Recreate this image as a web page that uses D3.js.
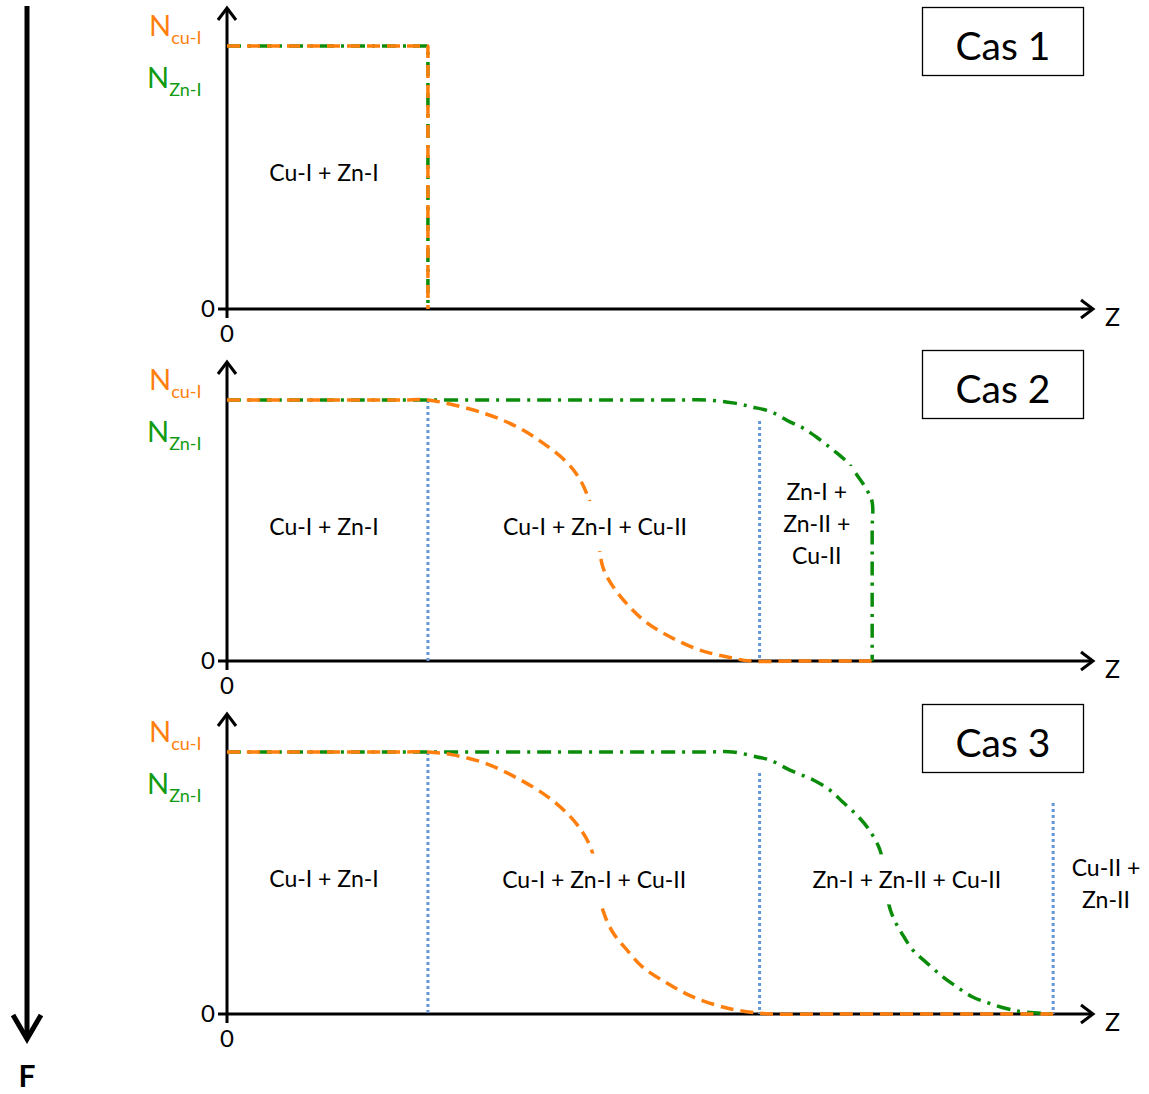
<!DOCTYPE html>
<html>
<head>
<meta charset="utf-8">
<script src="https://cdn.jsdelivr.net/npm/d3@7"></script>
<style>
  body { margin: 0; background: #fff; }
  text { font-family: Lato, "Open Sans", sans-serif; }
</style>
</head>
<body>
<div id="wrapper"></div>
<script>
/*global d3*/

// z runs 0..10 along the axis, N runs 0..1 (plateau = N initial)
const panelNames = ["Cas 1", "Cas 2", "Cas 3"]

// orange : N cu-I
const cuCas1 = [[0, 1], [2.32, 1], [2.32, 0]]
const cuCas2 = [[0, 1], [2.0, 1], [2.32, 1], [2.96, 0.95], [3.35, 0.897], [3.65, 0.835], [3.93, 0.759],
  [4.08, 0.693], [4.19, 0.609], [4.27, 0.513], [4.34, 0.36], [4.46, 0.284], [4.65, 0.207],
  [4.85, 0.146], [5.12, 0.092], [5.46, 0.042], [5.84, 0.011], [6.04, 0], [6.6, 0], [7.45, 0]]
const cuCas3 = [[0, 1], [2.0, 1], [2.32, 1], [2.61, 0.989], [3.0, 0.955], [3.38, 0.895], [3.7, 0.83],
  [3.93, 0.765], [4.1, 0.697], [4.21, 0.626], [4.28, 0.51], [4.34, 0.397], [4.46, 0.309],
  [4.62, 0.244], [4.8, 0.179], [5.08, 0.118], [5.38, 0.065], [5.77, 0.023], [6.12, 0.004],
  [6.3, 0], [7.0, 0], [9.54, 0]]

// green : N Zn-I
const znCas1 = [[0, 1], [2.32, 1], [2.32, 0]]
const znCas2 = [[0, 1], [5.2, 1], [5.54, 1], [5.84, 0.989], [6.07, 0.973], [6.29, 0.954], [6.5, 0.916],
  [6.65, 0.893], [6.85, 0.847], [7.0, 0.808], [7.16, 0.762], [7.29, 0.705], [7.39, 0.655],
  [7.45, 0.609], [7.45, 0.5], [7.45, 0]]
const znCas3 = [[0, 1], [5.2, 1], [5.54, 1], [5.84, 1], [6.12, 0.981], [6.27, 0.969], [6.5, 0.931],
  [6.77, 0.893], [6.96, 0.855], [7.11, 0.809], [7.27, 0.76], [7.4, 0.71], [7.54, 0.626],
  [7.59, 0.53], [7.63, 0.435], [7.69, 0.37], [7.79, 0.309], [7.92, 0.244], [8.08, 0.195],
  [8.27, 0.141], [8.43, 0.103], [8.61, 0.065], [8.81, 0.04], [9.01, 0.02], [9.19, 0.008],
  [9.54, 0]]

// dotted blue limits : [z, top N]
const limitsCas1 = []
const limitsCas2 = [[2.32, 1], [6.15, 0.92]]
const limitsCas3 = [[2.32, 1], [6.15, 0.92], [9.54, 0.805]]

// zone labels : [z, N, lines]
const zonesCas1 = [[1.12, 0.517, ["Cu-I + Zn-I"]]]
const zonesCas2 = [[1.12, 0.513, ["Cu-I + Zn-I"]], [4.25, 0.513, ["Cu-I + Zn-I + Cu-II"]],
  [6.81, 0.525, ["Zn-I +", "Zn-II +", "Cu-II"]]]
const zonesCas3 = [[1.12, 0.515, ["Cu-I + Zn-I"]], [4.24, 0.513, ["Cu-I + Zn-I + Cu-II"]],
  [7.85, 0.51, ["Zn-I + Zn-II + Cu-II"]], [10.15, 0.496, ["Cu-II +", "Zn-II"]]]

const cuData = [cuCas1, cuCas2, cuCas3]
const znData = [znCas1, znCas2, znCas3]
const limitData = [limitsCas1, limitsCas2, limitsCas3]
const zoneData = [zonesCas1, zonesCas2, zonesCas3]

// layout
const dims = { width: 1149, height: 1094 }
const originY = [309, 661, 1014]
const plateauY = [46, 400, 752]
const axisTopY = [8, 362, 714]
const boxTopY = [7, 350, 704]
// Cas 1 is a sharp step, the other cases are smooth fronts
const curves = [d3.curveLinear, d3.curveCatmullRom.alpha(0.5), d3.curveCatmullRom.alpha(0.5)]

const orange = "#ff7f0e"
const green = "#0a8c0a"
const blue = "#6396d6"

const svg = d3.select("#wrapper")
  .append("svg")
  .attr("width", dims.width)
  .attr("height", dims.height)

const xScale = d3.scaleLinear()
  .domain([0, 10])
  .range([227, 1093])

// arrow F on the left
svg.append("line")
  .attr("x1", 27).attr("x2", 27)
  .attr("y1", 6).attr("y2", 1038)
  .attr("stroke", "black").attr("stroke-width", 5)
svg.append("path")
  .attr("d", "M13,1015 L27,1039 L41,1015")
  .attr("fill", "none").attr("stroke", "black")
  .attr("stroke-width", 5).attr("stroke-linejoin", "miter")
svg.append("text")
  .attr("x", 27).attr("y", 1087)
  .attr("text-anchor", "middle")
  .style("font-size", "30px").style("font-weight", "bold")
  .text("F")

panelNames.forEach((name, i) => {
  const g = svg.append("g")
  const y0 = originY[i]

  const yScale = d3.scaleLinear()
    .domain([0, 1])
    .range([y0, plateauY[i]])

  const line = d3.line()
    .x(d => xScale(d[0]))
    .y(d => yScale(d[1]))
    .curve(curves[i])

  // axes
  const axes = g.append("g")
    .attr("stroke", "black").attr("stroke-width", 3).attr("fill", "none")
  axes.append("line")
    .attr("x1", 218).attr("x2", xScale(10) - 1)
    .attr("y1", y0).attr("y2", y0)
  axes.append("path")
    .attr("d", `M${xScale(10) - 12},${y0 - 9} L${xScale(10)},${y0} L${xScale(10) - 12},${y0 + 9}`)
  axes.append("line")
    .attr("x1", xScale(0)).attr("x2", xScale(0))
    .attr("y1", y0 + 9).attr("y2", axisTopY[i] + 1)
  axes.append("path")
    .attr("d", `M${xScale(0) - 9},${axisTopY[i] + 12} L${xScale(0)},${axisTopY[i]} L${xScale(0) + 9},${axisTopY[i] + 12}`)

  g.append("text")
    .attr("x", 215).attr("y", y0 + 8)
    .attr("text-anchor", "end")
    .style("font-size", "24px")
    .text("0")
  g.append("text")
    .attr("x", xScale(0)).attr("y", y0 + 33)
    .attr("text-anchor", "middle")
    .style("font-size", "24px")
    .text("0")
  g.append("text")
    .attr("x", 1105).attr("y", y0 + 17)
    .style("font-size", "25px")
    .text("Z")

  // N labels
  const nCu = g.append("text")
    .attr("x", 149).attr("y", plateauY[i] - 10)
    .attr("fill", orange)
  nCu.append("tspan").style("font-size", "29px").text("N")
  nCu.append("tspan").attr("dy", 8).style("font-size", "18px").text("cu-I")
  const nZn = g.append("text")
    .attr("x", 147).attr("y", plateauY[i] + 42)
    .attr("fill", "#119b11")
  nZn.append("tspan").style("font-size", "29px").text("N")
  nZn.append("tspan").attr("dy", 8).style("font-size", "18px").text("Zn-I")

  // dotted limits
  g.selectAll(".limit")
    .data(limitData[i])
    .join("line")
    .attr("class", "limit")
    .attr("x1", d => xScale(d[0])).attr("x2", d => xScale(d[0]))
    .attr("y1", d => yScale(d[1])).attr("y2", y0)
    .attr("stroke", blue).attr("stroke-width", 3)
    .attr("stroke-dasharray", "3,3")

  // curves : green under orange
  g.append("path")
    .attr("d", line(znData[i]))
    .attr("fill", "none").attr("stroke", green)
    .attr("stroke-width", 3.5)
    .attr("stroke-linejoin", "round")
    .attr("stroke-dasharray", "14,7,3,7")
  g.append("path")
    .attr("d", line(cuData[i]))
    .attr("fill", "none").attr("stroke", orange)
    .attr("stroke-width", 3.5)
    .attr("stroke-linejoin", "round")
    .attr("stroke-dasharray", "13,7")

  // zone labels with white text boxes
  zoneData[i].forEach(z => {
    const cx = xScale(z[0])
    const cy = yScale(z[1])
    const lines = z[2]
    const lh = 32
    const box = g.append("rect").attr("fill", "white")
    const t = g.append("text")
      .attr("text-anchor", "middle")
      .style("font-size", "23px")
    lines.forEach((s, k) => {
      t.append("tspan")
        .attr("x", cx)
        .attr("y", cy + 8 + (k - (lines.length - 1) / 2) * lh)
        .text(s)
    })
    const bb = t.node().getBBox()
    box.attr("x", bb.x - 4).attr("y", bb.y - 11)
      .attr("width", bb.width + 8).attr("height", bb.height + 22)
  })

  // Cas box
  g.append("rect")
    .attr("x", 922.5).attr("y", boxTopY[i] + 0.5)
    .attr("width", 161).attr("height", 68)
    .attr("fill", "white").attr("stroke", "black").attr("stroke-width", 1.3)
  g.append("text")
    .attr("x", 1003).attr("y", boxTopY[i] + 53)
    .attr("text-anchor", "middle")
    .style("font-size", "39px")
    .text(name)
})
</script>
</body>
</html>
